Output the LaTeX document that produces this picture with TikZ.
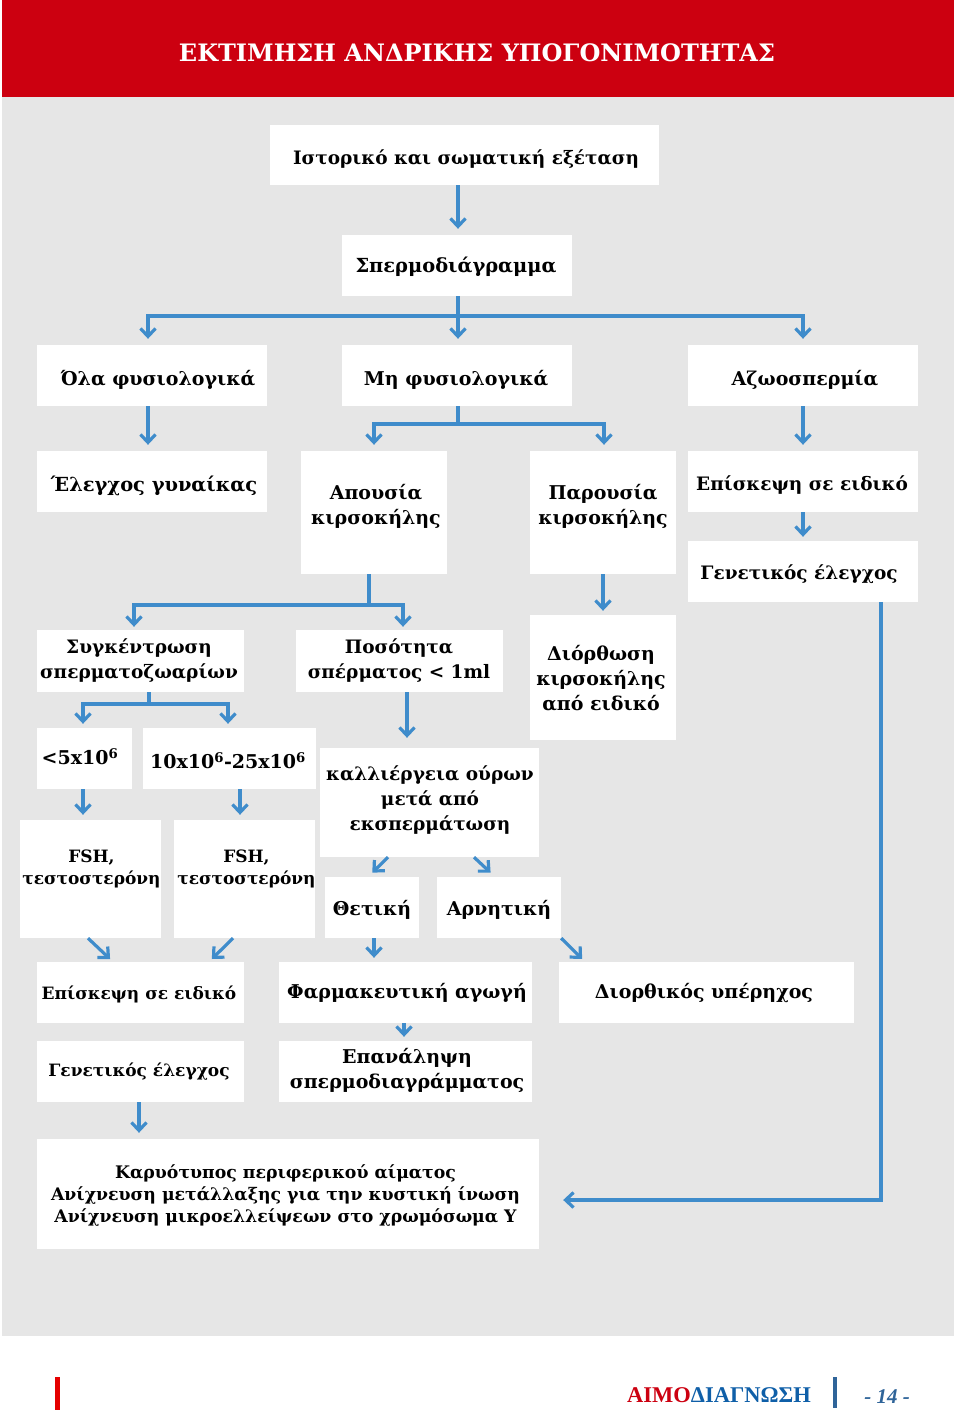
\documentclass[tikz,border=0pt]{standalone}
\usepackage{fontspec}
\setmainfont{DejaVu Serif}
\usetikzlibrary{arrows.meta, positioning}
\definecolor{bannerred}{HTML}{CC0010}
\definecolor{panelgray}{HTML}{E6E6E6}
\definecolor{arrowblue}{HTML}{3F8CCB}
\definecolor{logoblue}{HTML}{0F5FA8}
\definecolor{barblue}{HTML}{2F6499}

\begin{document}
\begin{tikzpicture}[
  x=1pt, y=-1pt,
  every node/.style={font=\fontsize{19}{25}\selectfont\bfseries},
  wbox/.style={fill=white, inner sep=0pt},
  wtxt/.style={align=center, inner sep=0pt, text=black, yshift=-2pt},
  txt/.style n args={3}{label={[wtxt, xshift=#1pt, yshift=#2pt]center:{#3}}},
  big/.style n args={3}{label={[wtxt, xshift=#1pt, yshift=#2pt,
      font=\fontsize{19.4}{25}\selectfont\bfseries]center:{#3}}},
  tight/.style n args={3}{label={[wtxt, xshift=#1pt, yshift=#2pt,
      font=\fontsize{18.5}{25}\selectfont\bfseries]center:{#3}}},
  small/.style n args={3}{label={[wtxt, xshift=#1pt, yshift=#2pt,
      font=\fontsize{17}{22.5}\selectfont\bfseries]center:{#3}}},
  lines/.style n args={3}{label={[wtxt, xshift=#1pt, yshift=#2pt,
      font=\fontsize{17.3}{22}\selectfont\bfseries]center:{#3}}},
  wide/.style={minimum width=230, minimum height=61},
  narrow/.style={minimum width=146, minimum height=123},
  mid/.style={minimum width=207, minimum height=61},
  arr/.style={-{Straight Barb[length=8pt, width=15pt]}, line width=3.2pt, arrowblue,
              shorten >=6pt},
  fork/.style={line width=3.2pt, arrowblue}
]
  \useasboundingbox (0,0) rectangle (960,1415);

  % ---- page panels ----
  \fill[panelgray] (2,97) rectangle (954,1336);
  \fill[bannerred] (2,0) rectangle (954,97);
  \node[text=white, font=\fontsize{24}{28}\selectfont\bfseries] (title) at (477,53)
    {ΕΚΤΙΜΗΣΗ ΑΝΔΡΙΚΗΣ ΥΠΟΓΟΝΙΜΟΤΗΤΑΣ};

  % ---- top rows ----
  \node[wbox, minimum width=389, minimum height=60, tight={1.5}{-2}{Ιστορικό και σωματική εξέταση}] (ist) at (464.5,155) {};
  \node[wbox, wide, big={-1}{1}{Σπερμοδιάγραμμα}] (sper) at (457,265.5) {};

  \node[wbox, wide, txt={6}{-2.5}{Όλα φυσιολογικά}]  (ola) at (152,375.5) {};
  \node[wbox, wide, txt={-1}{-2.5}{Μη φυσιολογικά}]  (mi)  at (457,375.5) {};
  \node[wbox, wide, txt={2}{-2.5}{Αζωοσπερμία}]      (azo) at (803,375.5) {};

  \node[wbox, wide, big={2}{-2.5}{Έλεγχος γυναίκας}] (ele) at (152,481.5) {};
  \node[wbox, narrow, txt={2}{8.5}{Απουσία\\κιρσοκήλης}]  (apo) at (374,512.5) {};
  \node[wbox, narrow, txt={0}{8.5}{Παρουσία\\κιρσοκήλης}] (par) at (603,512.5) {};
  \node[wbox, wide, tight={-1}{-1.5}{Επίσκεψη σε ειδικό}]  (epi) at (803,481.5) {};
  \node[wbox, wide, tight={-4}{-0.5}{Γενετικός έλεγχος}]   (gen) at (803,571.5) {};

  % ---- middle rows ----
  \node[wbox, mid, minimum height=62, tight={-1.5}{2}{Συγκέντρωση\\σπερματοζωαρίων}] (syg)  at (140.5,661) {};
  \node[wbox, mid, minimum height=62, tight={-0.5}{2}{Ποσότητα\\σπέρματος < 1ml}]     (poso) at (399.5,661) {};
  \node[wbox, minimum width=146, minimum height=125, txt={-2}{1}{Διόρθωση\\κιρσοκήλης\\από ειδικό}] (dio) at (603,677.5) {};

  \node[wbox, minimum width=95, minimum height=61, txt={-4.5}{3.5}{<5x10\textsuperscript{6}}] (lowc) at (84.5,758.5) {};
  \node[wbox, minimum width=173, minimum height=61, txt={-1.5}{-0.5}{10x10\textsuperscript{6}-25x10\textsuperscript{6}}] (midc) at (229.5,758.5) {};
  \node[wbox, minimum width=219, minimum height=109, tight={0.5}{4.5}{καλλιέργεια ούρων\\μετά από\\εκσπερμάτωση}] (kal) at (429.5,802.5) {};

  \node[wbox, minimum width=141, minimum height=118, small={1}{12}{FSH,\\τεστοστερόνη}] (fsha) at (90.5,879) {};
  \node[wbox, minimum width=141, minimum height=118, small={2}{12}{FSH,\\τεστοστερόνη}] (fshb) at (244.5,879) {};
  \node[wbox, minimum width=94, minimum height=61, txt={0}{-0.5}{Θετική}]     (pos) at (372,907.5) {};
  \node[wbox, minimum width=124, minimum height=61, txt={0}{-0.5}{Αρνητική}]  (neg) at (499,907.5) {};

  % ---- bottom rows ----
  \node[wbox, mid, small={-1.5}{0.5}{Επίσκεψη σε ειδικό}] (epib) at (140.5,992.5) {};
  \node[wbox, minimum width=253, minimum height=61, txt={1.5}{1.5}{Φαρμακευτική αγωγή}] (far) at (405.5,992.5) {};
  \node[wbox, minimum width=295, minimum height=61, txt={-2.5}{1.5}{Διορθικός υπέρηχος}] (diou) at (706.5,992.5) {};
  \node[wbox, mid, small={-1.5}{1.5}{Γενετικός έλεγχος}] (genb) at (140.5,1071.5) {};
  \node[wbox, minimum width=253, minimum height=61, txt={1.5}{3.5}{Επανάληψη\\σπερμοδιαγράμματος}] (epan) at (405.5,1071.5) {};
  \node[wbox, minimum width=502, minimum height=110, lines={-2.5}{1}{Καρυότυπος περιφερικού αίματος\\Ανίχνευση μετάλλαξης για την κυστική ίνωση\\Ανίχνευση μικροελλείψεων στο χρωμόσωμα Υ}] (kar) at (288,1194) {};

  % ---- fork points ----
  \coordinate (sperfork) at (458,316);
  \coordinate (mifork)   at (458,424);
  \coordinate (apofork)  at (369,605);
  \coordinate (sygfork)  at (149,704);

  % ---- top rows arrows ----
  \draw[arr] ([xshift=1pt]ist.south -| sper.north) -- ([xshift=1pt]sper.north);
  \draw[arr] ([xshift=1pt]sper.south) -- ([xshift=1pt]mi.north);
  \draw[arr] (sperfork) -| ([xshift=-4pt]ola.north);
  \draw[arr] (sperfork) -| (azo.north);
  \draw[arr] ([xshift=-4pt]ola.south) -- ([xshift=-4pt]ele.north);
  \draw[fork] ([xshift=1pt]mi.south) -- (mifork);
  \draw[arr] (mifork) -| (apo.north);
  \draw[arr] (mifork) -| ([xshift=1pt]par.north);
  \draw[arr] (azo.south) -- (epi.north);
  \draw[arr, shorten >=4pt] (epi.south) -- (gen.north);

  % ---- middle rows arrows ----
  \draw[fork] ([xshift=-5pt]apo.south) -- (apofork);
  \draw[arr, shorten >=3pt] (apofork) -| ([xshift=-6.5pt]syg.north);
  \draw[arr, shorten >=3pt] (apofork) -| ([xshift=3.5pt]poso.north);
  \draw[arr, shorten >=4pt] (par.south) -- (dio.north);
  \draw[fork] ([xshift=8.5pt]syg.south) -- (sygfork);
  \draw[arr, shorten >=4pt] (sygfork) -| ([xshift=-1.5pt]lowc.north);
  \draw[arr, shorten >=4pt] (sygfork) -| ([xshift=-1.5pt]midc.north);
  \draw[arr, shorten >=10pt] ([xshift=7.5pt]poso.south) -- ([xshift=-22.5pt]kal.north);
  \draw[arr, shorten >=5pt] ([xshift=-1.5pt]lowc.south) -- ([xshift=-7.5pt]fsha.north);
  \draw[arr, shorten >=5pt] ([xshift=10.5pt]midc.south) -- ([xshift=-4.5pt]fshb.north);
  \draw[arr] ([xshift=-41.5pt]kal.south) -- ([xshift=-4pt]pos.north);
  \draw[arr] ([xshift=44.5pt]kal.south) -- ([xshift=-4pt]neg.north);

  % ---- bottom rows arrows ----
  \draw[arr, shorten >=4pt] ([xshift=-2.5pt]fsha.south) -- ([xshift=-27.5pt]epib.north);
  \draw[arr, shorten >=4pt] ([xshift=-11.5pt]fshb.south) -- ([xshift=68.5pt]epib.north);
  \draw[arr, shorten >=4pt] ([xshift=2pt]pos.south) -- ([xshift=-31.5pt]far.north);
  \draw[arr, shorten >=4pt] (neg.south east) -- ([xshift=-121.5pt]diou.north);
  \draw[arr, shorten >=4pt] ([xshift=-1.5pt]far.south) -- ([xshift=-1.5pt]epan.north);
  \draw[arr] ([xshift=-1.5pt]genb.south) -- ([xshift=-149pt]kar.north);
  \draw[arr, shorten >=24pt] ([xshift=78pt]gen.south) |- ([yshift=-6pt]kar.east);

  % ---- footer ----
  \fill[red!90!black] (55,1377) rectangle (60,1410);
  \fill[barblue] (833,1377) rectangle (837,1408);
  \node[font=\fontspec{Liberation Serif}\fontsize{22.5}{28}\selectfont\bfseries, inner sep=0pt] (logo) at (719,1395)
    {\textcolor{bannerred}{ΑΙΜΟ}\textcolor{logoblue}{ΔΙΑΓΝΩΣΗ}};
  \node[font=\fontspec{Liberation Serif}\fontsize{21}{25}\selectfont\bfseries\itshape, text=barblue, inner sep=0pt] (pagenum) at (887,1397) {- 14 -};
\end{tikzpicture}
\end{document}
